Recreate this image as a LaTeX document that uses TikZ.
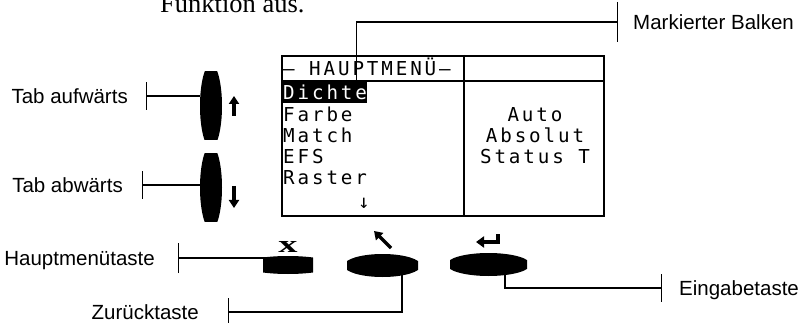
\documentclass[tikz,border=0pt]{standalone}
\usepackage{fontspec}
\setmainfont{Liberation Serif}
\setsansfont{Liberation Sans}
\newfontfamily\lcdfont[LetterSpace=15]{DejaVu Sans Mono}
\usetikzlibrary{arrows.meta,calc,positioning}
\tikzset{
  tag/.style={
    font=\sffamily\fontsize{20.5}{24}\selectfont, inner sep=0pt,
    text height=14.7pt, text depth=0pt
  },
  lcdrow/.style={
    font=\lcdfont\fontsize{19.2}{23}\selectfont, inner sep=0pt, anchor=west,
    text height=14pt, text depth=0pt
  },
  screen/.style={draw, line width=2pt, inner sep=0pt},
  taste/.style 2 args={
    inner sep=0pt, fill=white,
    path picture={\fill[black] (path picture bounding box.center) ellipse [x radius=#1, y radius=#2];}
  },
  leader/.style={line width=1.2pt, {Bar[width=#1]}-},
  leader/.default=28pt,
  icon/.style={line width=3.2pt, -{Triangle[length=8pt,width=10pt]}}
}
\begin{document}
\begin{tikzpicture}[x=1pt,y=-1pt]
  \useasboundingbox (0,0) rectangle (808,323);
  \clip (0,0) rectangle (808,323);
  \node[font=\rmfamily\fontsize{26.5}{30}\selectfont, anchor=base west, inner sep=0pt] (intro) at (160,13) {Funktion aus.};

  % Anzeige
  \node[screen, minimum width=322pt, minimum height=160pt] (lcd) at (443,136) {};
  \draw[line width=2pt] ([yshift=-26pt]lcd.north west) -- ([yshift=-26pt]lcd.north east);
  \draw[line width=2pt] ([xshift=183pt]lcd.north west) -- ([xshift=183pt]lcd.south west);
  \node[lcdrow] (head) at (283,69) {– HAUPTMENÜ–};
  \node[lcdrow, fill=black, text=white, minimum height=21pt] (dichte) at (283,93) {Dichte};
  \node[lcdrow] (farbe) at (283,114.5) {Farbe};
  \node[lcdrow] (match) at (283,135.5) {Match};
  \node[lcdrow] (efs) at (283,156.5) {EFS};
  \node[lcdrow] (raster) at (283,177.5) {Raster};
  \node[lcdrow, anchor=center] (more) at (364,201) {↓};
  \node[lcdrow, anchor=center] (auto) at (535,114.5) {Auto};
  \node[lcdrow, anchor=center] (absolut) at (535,135.5) {Absolut};
  \node[lcdrow, anchor=center] (status) at (535,156.5) {Status T};

  % Tasten
  \node[taste={11pt}{42pt}, minimum width=22pt, minimum height=68pt] (tabup) at (211,106) {};
  \node[taste={11pt}{42pt}, minimum width=22pt, minimum height=68pt] (tabdn) at (211,187.5) {};
  \node[taste={45pt}{9pt}, minimum width=50pt, minimum height=18pt] (xkey) at (288,265) {};
  \node[taste={38.5pt}{11.5pt}, minimum width=71pt, minimum height=23pt] (back) at (382.5,265.5) {};
  \node[taste={41.8pt}{11.5pt}, minimum width=77pt, minimum height=23pt] (enter) at (488.5,264.5) {};

  \draw[icon] (234,116) -- (234,96);
  \draw[icon] (234,186) -- (234,208);
  \draw[icon] (391,248) -- (374,231);
  \draw[line width=3.4pt, -{Triangle[length=8pt,width=11pt]}] (498,234) -- (498,242) -- (476,242);
  \node[font=\rmfamily\bfseries\fontsize{24}{24}\selectfont, inner sep=0pt] (xsym) at (288,247) {\scalebox{1.6}[1]{x}};

  % Beschriftungen
  \node[tag, anchor=west] (mark) at (633,22) {Markierter Balken};
  \node[tag, anchor=east] (auf) at (128,96) {Tab aufwärts};
  \node[tag, anchor=east] (ab) at (123,185) {Tab abwärts};
  \node[tag, anchor=east] (haupt) at (155,258) {Hauptmenütaste};
  \node[tag, anchor=east] (zurueck) at (199,312) {Zurücktaste};
  \node[tag, anchor=west] (eingabe) at (679,288) {Eingabetaste};
  \coordinate[left=15pt of mark] (markT);
  \coordinate[right=18pt of auf] (aufT);
  \coordinate[right=19pt of ab] (abT);
  \coordinate[right=23pt of haupt] (hauptT);
  \coordinate[right=29pt of zurueck] (zurueckT);
  \coordinate[left=17pt of eingabe] (eingabeT);

  \draw[leader=40pt] (markT) -| ($(dichte.north east)+(-11,0)$);
  \draw[leader] (aufT) -- (tabup.west |- aufT);
  \draw[leader] (abT) -- (tabdn.west |- abT);
  \draw[leader=30pt] (hauptT) -- ($(hauptT -| xkey.north)+(-8,0)$);
  \draw[leader] (zurueckT) -| ($(back.south)+(19.5,-2)$);
  \draw[leader] (eingabeT) -| ($(enter.south)+(16.5,-2)$);
\end{tikzpicture}
\end{document}
